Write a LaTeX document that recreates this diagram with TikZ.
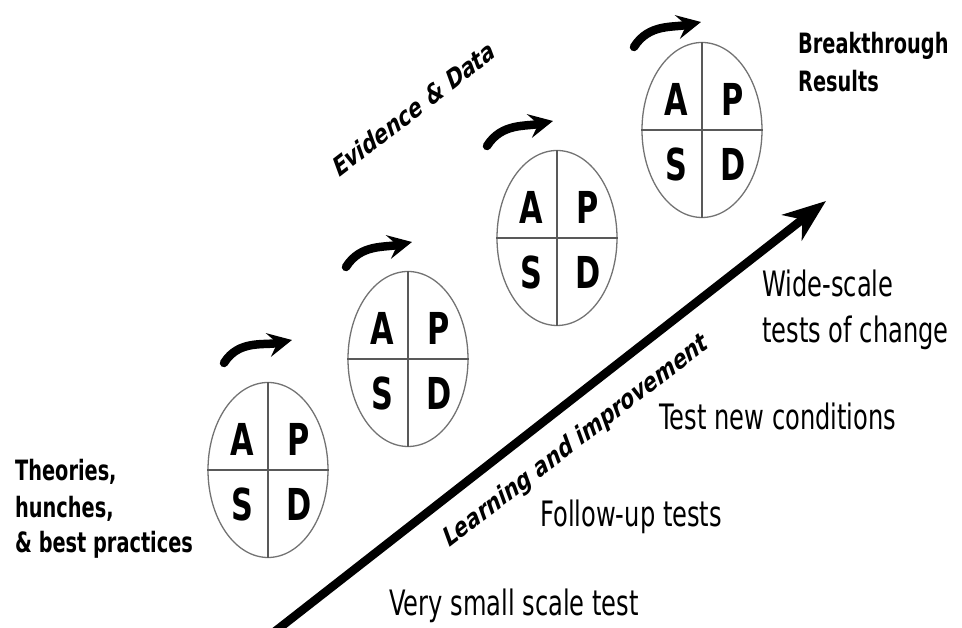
\documentclass[tikz,border=0pt]{standalone}
\usepackage{fontspec}
\usetikzlibrary{arrows.meta,shapes.geometric}
% narrow sans for upright labels, plain sans for the slanted ones
\newfontfamily\narrowsans[FakeStretch=0.69]{DejaVu Sans}
\newfontfamily\plainsans{DejaVu Sans}
\begin{document}
\begin{tikzpicture}[x=1pt,y=1pt,
  pdsa/.style={ellipse, draw=black!55, line width=1.3pt,
    minimum width=120pt, minimum height=175pt, inner sep=0pt},
  quarter/.style={draw=black!65, line width=1.2pt},
  cell/.style={anchor=base, inner sep=0pt,
    font=\narrowsans\bfseries\fontsize{44}{44}\selectfont},
  stage/.style={anchor=base west, inner sep=0pt,
    font=\narrowsans\fontsize{35}{35}\selectfont},
  boldlabel/.style={anchor=base west, inner sep=0pt,
    font=\narrowsans\bfseries\fontsize{28}{28}\selectfont},
  slanted/.style={transform shape, xscale=0.69, rotate=28,
    anchor=base west, inner sep=0pt,
    font=\plainsans\bfseries\fontsize{28}{28}\selectfont},
  cyclearrow/.style={line width=8.5pt, line cap=round,
    -{Stealth[length=24pt,width=24pt,inset=9pt]}},
  growtharrow/.style={line width=8.5pt,
    -{Stealth[length=43pt,width=32pt,inset=13pt]}},
]
\useasboundingbox (0,0) rectangle (962,628);
\clip (0,0) rectangle (962,628);

% the four PDSA cycles
\foreach \n/\x/\y in {1/268/158, 2/408/269, 3/557/390, 4/702/498}{
  \node[pdsa] (c\n) at (\x,\y) {};
  \draw[quarter] (c\n.north) -- (c\n.south);
  \draw[quarter] (c\n.west) -- (c\n.east);
  \node[cell] (a\n) at ([shift={(-26,14)}]c\n.center) {A};
  \node[cell] (p\n) at ([shift={(31,14)}]c\n.center) {P};
  \node[cell] (s\n) at ([shift={(-26,-51)}]c\n.center) {S};
  \node[cell] (d\n) at ([shift={(31,-51)}]c\n.center) {D};
}

% curved arrows above each cycle
\foreach \n/\sx/\sy/\tx/\ty in {1/224/265/292/288, 2/346/361/412/386,
                                3/487/482/553/507, 4/634/581/701/606}{
  \coordinate (t\n s) at (\sx,\sy);
  \coordinate (t\n e) at (\tx,\ty);
  \draw[cyclearrow] (t\n s) to[out=58, in=192] (t\n e);
}

% learning and improvement arrow
\coordinate (gtail) at (264,-12);
\coordinate (ghead) at (826,427);
\draw[growtharrow] (gtail) -- (ghead);

% left and top labels
\node[boldlabel] (th1) at (15,147.5) {Theories,};
\node[boldlabel] (th2) at (15,110.5) {hunches,};
\node[boldlabel] (th3) at (15,75) {\& best practices};
\node[boldlabel] (br1) at (798,574) {Breakthrough};
\node[boldlabel] (br2) at (798,536) {Results};

% stages of testing
\node[stage] (st1) at (389,12.5) {Very small scale test};
\node[stage] (st2) at (540,101) {Follow-up tests};
\node[stage] (st3) at (659,198) {Test new conditions};
\node[stage] (st4) at (762,331) {Wide-scale};
\node[stage] (st5) at (762,285) {tests of change};

% slanted labels
\begin{scope}[shift={(338,449)}]
  \node[slanted] (evid) at (0,0) {Evidence \& Data};
\end{scope}
\begin{scope}[shift={(448,79)}]
  \node[slanted] (learn) at (0,0) {Learning and improvement};
\end{scope}
\end{tikzpicture}
\end{document}
